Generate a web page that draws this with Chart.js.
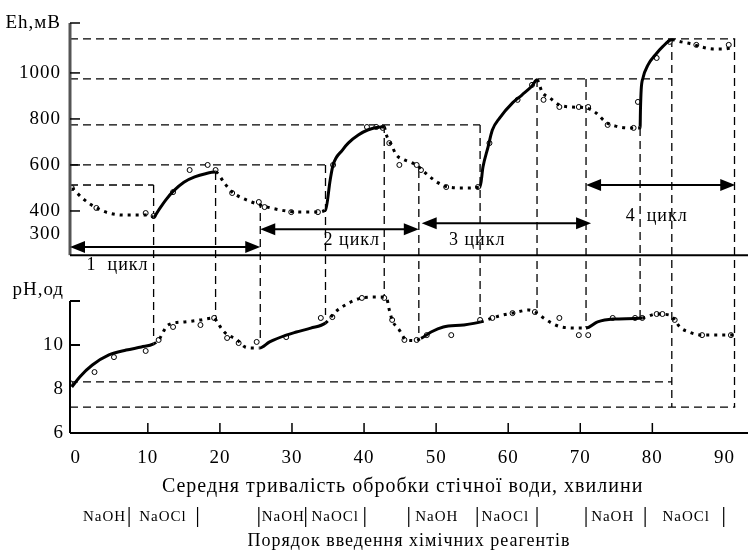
<!DOCTYPE html>
<html lang="uk">
<head>
  <meta charset="UTF-8">
  <title>Eh / pH</title>
  <script src="https://cdn.jsdelivr.net/npm/chart.js"></script>
  <style>
    body {
      margin: 0;
      padding: 0;
      background: #fff;
    }
    canvas {
      display: block;
    }
  </style>
</head>
<body>
  <canvas id="chart" width="748" height="553"></canvas>

  <script>
    // Eh-крива (хв, мВ) – безперервна, суцільні ділянки задані окремо
    const ehCurve = [
      [-0.5, 500], [1.2, 448], [2.9, 413], [4.6, 391], [6.7, 382], [8.7, 382], [10.1, 382], [10.8, 374],
      [11.5, 404], [12.5, 448], [13.5, 485], [15, 525], [16.5, 548], [18, 562], [19.4, 569],
      [20.6, 522], [21.7, 482], [23.1, 456], [24.4, 439], [25.6, 426], [27.1, 413], [29.2, 400], [31.2, 395], [33.3, 395], [34.65, 404],
      [35.3, 535], [35.7, 600], [37.0, 665], [37.8, 695], [39.2, 730], [40.5, 752], [42.4, 765], [42.8, 765],
      [43.1, 730], [43.8, 687], [44.5, 643], [45.6, 622], [46.7, 609], [47.6, 591], [49.0, 552], [50.3, 522], [51.7, 504], [53.8, 500], [56.1, 504],
      [56.5, 591], [57.2, 678], [57.8, 752], [58.8, 804], [60.6, 870], [61.9, 904], [63.3, 943], [64.0, 970],
      [64.7, 917], [65.8, 891], [67.1, 861], [68.8, 852], [70.8, 848], [72.2, 826], [73.5, 787], [74.9, 769], [76.9, 761], [78.3, 761],
      [78.35, 839], [78.45, 926], [78.7, 978], [79.4, 1035], [80.4, 1078], [81.4, 1113], [82.7, 1144],
      [84.0, 1135], [85.4, 1126], [86.8, 1113], [88.5, 1104], [89.9, 1104], [91.3, 1113]
    ];
    const ehSolidRanges = [[10.8, 19.4], [34.65, 42.8], [56.1, 64.0], [78.3, 82.7]];
    const ehPoints = [
      [-0.55, 500], [2.86, 413], [9.7, 391], [10.8, 378], [13.5, 482], [15.8, 578], [18.3, 600], [19.4, 578],
      [21.7, 478], [25.4, 439], [26.2, 417], [29.9, 395], [33.6, 395],
      [35.7, 600], [40.4, 765], [41.7, 765], [42.6, 761], [43.5, 695], [44.9, 600], [47.3, 600], [47.9, 578], [51.4, 504], [55.8, 504],
      [57.4, 695], [61.3, 883], [63.3, 948], [64.9, 883], [67.1, 852], [69.8, 852], [71.1, 852], [73.8, 774], [77.4, 761],
      [78.0, 874], [80.6, 1065], [82.4, 1135], [86.1, 1122], [90.6, 1122]
    ];

    // pH-крива (хв, од)
    const phCurve = [
      [-0.55, 8.09], [0.55, 8.55], [2.3, 9.09], [4.6, 9.55], [7.0, 9.77], [9.1, 9.91], [10.8, 10.05],
      [11.5, 10.23], [12.8, 10.91], [15.1, 11.05], [17.3, 11.14], [19.2, 11.23], [19.6, 11.05], [20.6, 10.59], [22.4, 10.23], [23.5, 9.91], [24.7, 9.86], [25.5, 9.86],
      [26.9, 10.14], [29.2, 10.45], [30.6, 10.59], [32.6, 10.77], [34.65, 11.0],
      [36.0, 11.5], [37.4, 11.82], [39.7, 12.14], [41.9, 12.18], [43.1, 12.14], [43.5, 11.6], [43.9, 11.14], [44.9, 10.68], [45.8, 10.25], [47.0, 10.2], [47.9, 10.3],
      [49.3, 10.59], [51.0, 10.82], [53.8, 10.91], [56.2, 11.05],
      [57.8, 11.23], [59.2, 11.36], [60.6, 11.45], [62.9, 11.59], [63.7, 11.5], [64.9, 11.23], [66.0, 11.0], [67.4, 10.82], [69.7, 10.77], [70.8, 10.77],
      [72.4, 11.05], [74.6, 11.18], [78.6, 11.23],
      [80.6, 11.41], [82.4, 11.36], [83.1, 11.14], [83.8, 10.82], [85.1, 10.59], [86.9, 10.45], [89.6, 10.45], [91.5, 10.45]
    ];
    const phSolidRanges = [[-1, 10.8], [25.5, 34.65], [47.9, 56.2], [70.8, 78.6]];
    const phPoints = [
      [-0.8, 8.27], [2.6, 8.77], [5.3, 9.45], [9.7, 9.73], [11.5, 10.23], [13.5, 10.82], [17.3, 10.91], [19.2, 11.23],
      [21.0, 10.32], [22.6, 10.09], [25.1, 10.14], [29.2, 10.36], [34.0, 11.23],
      [35.6, 11.27], [39.7, 12.14], [42.8, 12.14], [43.9, 11.14], [45.6, 10.23], [47.3, 10.23], [48.7, 10.45], [52.1, 10.45], [56.1, 11.14],
      [57.8, 11.23], [60.6, 11.45], [63.7, 11.5], [67.1, 11.23], [69.8, 10.45], [71.1, 10.45], [74.5, 11.23], [77.6, 11.23], [78.6, 11.23],
      [80.6, 11.41], [81.4, 11.41], [83.1, 11.14], [86.9, 10.45], [90.9, 10.45]
    ];

    // Осі
    const xTicks = [0, 10, 20, 30, 40, 50, 60, 70, 80, 90];
    const ehTicks = [300, 400, 600, 800, 1000];
    const phTicks = [6, 8, 10];

    // Допоміжні штрихові лінії
    const ehLevels = [1148, 974, 774, 600, 513];
    const ehLevelEnds = [91.5, 82.7, 56.1, 34.65, 10.8];
    const phLevels = [8.32, 7.18];
    const phLevelEnds = [82.7, 91.5];
    const guideTimes = [10.8, 19.4, 25.6, 34.65, 42.8, 47.6, 56.1, 64.0, 70.8, 78.3, 82.7, 91.4];
    const guideTopEh = [513, 569, 448, 600, 774, 578, 774, 974, 974, 761, 1148, 1148];
    const guideBottomPh = [10.3, 11.14, 10.3, 11.36, 12.14, 10.55, 11.23, 11.6, 10.8, 11.23, 7.18, 7.18];

    // Цикли
    const cycleNames = ['1  цикл', '2 цикл', '3 цикл', '4  цикл'];
    const cycleStart = [-0.8, 25.6, 48.0, 70.8];
    const cycleEnd = [25.6, 47.6, 71.5, 91.5];
    const cycleArrowEh = [243, 321, 347, 513];
    const cycleLabelT = [5.8, 38.3, 55.7, 80.6];
    const cycleLabelEh = [162, 274, 274, 378];

    // Порядок введення реагентів
    const reagentNames = ['NaOH', 'NaOCl', 'NaOH', 'NaOCl', 'NaOH', 'NaOCl', 'NaOH', 'NaOCl'];
    const reagentMid = [4.0, 12.1, 28.8, 36.0, 50.1, 59.6, 74.5, 84.7];
    const reagentBars = [7.4, 16.9, 25.4, 31.9, 40.1, 46.2, 55.7, 64.0, 70.8, 79.0, 89.9];

    const xTitle = 'Середня тривалість обробки стічної води, хвилини';
    const bottomTitle = 'Порядок введення хімічних реагентів';

    const EH_MIN = -565, EH_MAX = 1217, EH_BASE = 208;
    const PH_MIN = 6, PH_MAX = 24.64, PH_TOP = 12, PH_LABEL = 12.5;
    const FONT = '"Liberation Serif", "Times New Roman", serif';

    const toXY = arr => arr.map(p => ({ x: p[0], y: p[1] }));
    const inRanges = (c, ranges) => ranges.some(r => c.p0.parsed.x >= r[0] - 1e-6 && c.p1.parsed.x <= r[1] + 1e-6);

    function line(ctx, x1, y1, x2, y2) {
      ctx.beginPath();
      ctx.moveTo(x1, y1);
      ctx.lineTo(x2, y2);
      ctx.stroke();
    }

    function arrowHead(ctx, x, y, dir) {
      ctx.beginPath();
      ctx.moveTo(x, y);
      ctx.lineTo(x - dir * 15, y - 6);
      ctx.lineTo(x - dir * 15, y + 6);
      ctx.closePath();
      ctx.fill();
    }

    const figurePlugin = {
      id: 'figure',
      afterLayout(chart) {
        // шкала pH ділить ліве поле зі шкалою Eh
        const s = chart.scales.yP;
        s.left = 0;
        s.right = chart.chartArea.left;
      },
      beforeDraw(chart) {
        chart.ctx.letterSpacing = '1px';
      },
      beforeDatasetsDraw(chart) {
        const { ctx, chartArea } = chart;
        const { x, yE, yP } = chart.scales;
        const left = chartArea.left;
        ctx.save();
        ctx.strokeStyle = '#000';
        ctx.lineWidth = 1.3;
        ctx.setLineDash([8, 5]);
        ehLevels.forEach((v, i) => {
          const y = yE.getPixelForValue(v);
          line(ctx, left, y, x.getPixelForValue(ehLevelEnds[i]), y);
        });
        phLevels.forEach((v, i) => {
          const y = yP.getPixelForValue(v);
          line(ctx, left, y, x.getPixelForValue(phLevelEnds[i]), y);
        });
        guideTimes.forEach((t, i) => {
          const gx = x.getPixelForValue(t);
          line(ctx, gx, yE.getPixelForValue(guideTopEh[i]), gx, yP.getPixelForValue(guideBottomPh[i]));
        });
        ctx.restore();
      },
      afterDatasetsDraw(chart) {
        const { ctx, chartArea } = chart;
        const { x, yE, yP } = chart.scales;
        const left = chartArea.left;
        const W = chart.width;
        ctx.save();
        ctx.setLineDash([]);

        // вісь Eh
        ctx.strokeStyle = '#555';
        ctx.lineWidth = 3;
        line(ctx, left, yE.getPixelForValue(EH_MAX), left, yE.getPixelForValue(EH_BASE));
        ctx.strokeStyle = '#000';
        ctx.lineWidth = 1.5;
        [EH_MAX].concat(ehTicks.filter(v => v >= 400)).forEach(v => {
          const y = yE.getPixelForValue(v);
          line(ctx, left, y, left + 10, y);
        });
        // базова лінія верхньої панелі
        ctx.lineWidth = 2;
        line(ctx, left, yE.getPixelForValue(EH_BASE), W, yE.getPixelForValue(EH_BASE));

        // вісь pH
        line(ctx, left, yP.getPixelForValue(PH_TOP), left, yP.getPixelForValue(PH_MIN));
        [PH_TOP, 10].forEach(v => {
          const y = yP.getPixelForValue(v);
          line(ctx, left, y, left + 10, y);
        });
        // вісь часу
        const yb = yP.getPixelForValue(PH_MIN);
        line(ctx, left, yb, W, yb);
        ctx.lineWidth = 1.5;
        xTicks.filter(v => v > 0 && v < 90).forEach(v => {
          const tx = x.getPixelForValue(v);
          line(ctx, tx, yb, tx, yb - 10);
        });

        // стрілки циклів
        ctx.fillStyle = '#000';
        ctx.lineWidth = 2;
        cycleNames.forEach((name, i) => {
          const y = yE.getPixelForValue(cycleArrowEh[i]);
          const x1 = x.getPixelForValue(cycleStart[i]);
          const x2 = x.getPixelForValue(cycleEnd[i]);
          line(ctx, x1 + 4, y, x2 - 4, y);
          arrowHead(ctx, x1, y, -1);
          arrowHead(ctx, x2, y, 1);
        });
        ctx.font = '18px ' + FONT;
        ctx.letterSpacing = '1px';
        ctx.textAlign = 'center';
        ctx.textBaseline = 'middle';
        cycleNames.forEach((name, i) => {
          ctx.fillText(name, x.getPixelForValue(cycleLabelT[i]), yE.getPixelForValue(cycleLabelEh[i]));
        });

        // реагенти
        const rowY = chartArea.bottom + 84;
        ctx.font = '15px ' + FONT;
        reagentNames.forEach((n, i) => ctx.fillText(n, x.getPixelForValue(reagentMid[i]), rowY));
        ctx.lineWidth = 1.2;
        reagentBars.forEach(t => {
          const bx = x.getPixelForValue(t);
          line(ctx, bx, rowY - 10, bx, rowY + 10);
        });
        ctx.font = '18px ' + FONT;
        ctx.fillText(bottomTitle, (left + W) / 2, chartArea.bottom + 108);
        ctx.restore();
      }
    };

    const ctx = document.getElementById('chart').getContext('2d');
    new Chart(ctx, {
      type: 'line',
      data: {
        datasets: [
          {
            data: toXY(ehCurve),
            yAxisID: 'yE',
            borderColor: '#000',
            borderWidth: 3,
            pointRadius: 0,
            cubicInterpolationMode: 'monotone',
            segment: { borderDash: c => inRanges(c, ehSolidRanges) ? [] : [3, 5] }
          },
          {
            data: toXY(ehPoints),
            yAxisID: 'yE',
            showLine: false,
            pointRadius: 2.5,
            pointBorderWidth: 1,
            pointBorderColor: '#000',
            pointBackgroundColor: '#fff'
          },
          {
            data: toXY(phCurve),
            yAxisID: 'yP',
            borderColor: '#000',
            borderWidth: 3,
            pointRadius: 0,
            cubicInterpolationMode: 'monotone',
            segment: { borderDash: c => inRanges(c, phSolidRanges) ? [] : [3, 5] }
          },
          {
            data: toXY(phPoints),
            yAxisID: 'yP',
            showLine: false,
            pointRadius: 2.5,
            pointBorderWidth: 1,
            pointBorderColor: '#000',
            pointBackgroundColor: '#fff'
          }
        ]
      },
      options: {
        responsive: false,
        animation: false,
        devicePixelRatio: 1,
        layout: { padding: { top: 23, right: 1, left: 0, bottom: 0 } },
        plugins: {
          legend: { display: false },
          tooltip: { enabled: false }
        },
        scales: {
          x: {
            type: 'linear',
            position: 'bottom',
            min: -0.8,
            max: 91.5,
            afterBuildTicks: s => { s.ticks = xTicks.map(v => ({ value: v })); },
            afterFit: s => { s.height = 120; },
            ticks: { color: '#000', font: { family: FONT, size: 19 }, padding: 14, maxRotation: 0, autoSkip: false },
            grid: { display: false, drawTicks: false },
            border: { display: false },
            title: {
              display: true,
              text: xTitle,
              color: '#000',
              font: { family: FONT, size: 20 },
              padding: { top: 0, bottom: 54 }
            }
          },
          yE: {
            type: 'linear',
            position: 'left',
            weight: 0,
            min: EH_MIN,
            max: EH_MAX,
            afterBuildTicks: s => { s.ticks = ehTicks.concat([EH_MAX]).map(v => ({ value: v })); },
            afterFit: s => { s.width = 70; },
            ticks: {
              color: '#000',
              font: { family: FONT, size: 19 },
              padding: 9,
              autoSkip: false,
              callback: v => v === EH_MAX ? 'Eh,мВ' : String(v)
            },
            grid: { display: false, drawTicks: false },
            border: { display: false }
          },
          yP: {
            type: 'linear',
            position: 'left',
            weight: 1,
            min: PH_MIN,
            max: PH_MAX,
            afterBuildTicks: s => { s.ticks = phTicks.concat([PH_LABEL]).map(v => ({ value: v })); },
            afterFit: s => { s.width = 0; },
            ticks: {
              color: '#000',
              font: { family: FONT, size: 19 },
              padding: 6,
              autoSkip: false,
              callback: v => v === PH_LABEL ? 'pH,од' : String(v)
            },
            grid: { display: false, drawTicks: false },
            border: { display: false }
          }
        }
      },
      plugins: [figurePlugin]
    });
  </script>
</body>
</html>
